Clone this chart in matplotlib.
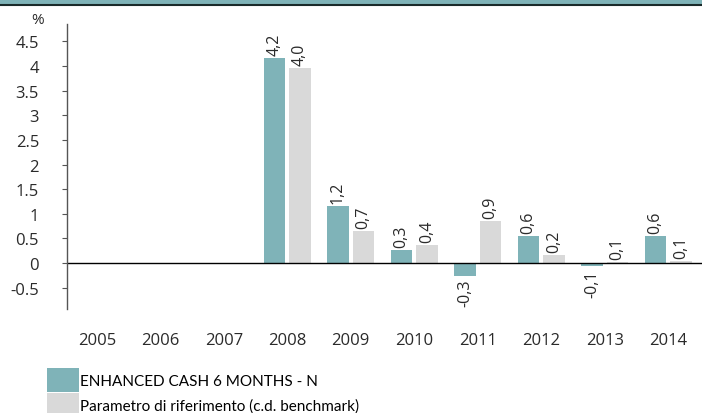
import matplotlib.pyplot as plt
import numpy as np
from matplotlib.patches import Rectangle
from matplotlib.lines import Line2D

# Data
years = ["2005", "2006", "2007", "2008", "2009", "2010", "2011", "2012", "2013", "2014"]
fund = [np.nan, np.nan, np.nan, 4.16, 1.16, 0.26, -0.26, 0.56, -0.06, 0.56]
bench = [np.nan, np.nan, np.nan, 3.96, 0.66, 0.36, 0.86, 0.16, 0.03, 0.05]
fund_labels = ["", "", "", "4,2", "1,2", "0,3", "-0,3", "0,6", "-0,1", "0,6"]
bench_labels = ["", "", "", "4,0", "0,7", "0,4", "0,9", "0,2", "0,1", "0,1"]
yticks = [-0.5, 0, 0.5, 1, 1.5, 2, 2.5, 3, 3.5, 4, 4.5]

TEAL = "#7fb3b8"
GREY = "#d9d9d9"
TXT = "#2a2a2a"
W, H = 702, 414

plt.rcParams['font.family'] = ['Open Sans', 'DejaVu Sans']

fig = plt.figure(figsize=(W / 100, H / 100), dpi=100)
ax = fig.add_axes([67 / W, 1 - 310 / H, (710 - 67) / W, (310 - 25) / H])

x = np.arange(len(years))
ax.bar(x - 0.2, fund, width=0.34, color=TEAL, label="ENHANCED CASH 6 MONTHS - N")
ax.bar(x + 0.2, bench, width=0.34, color=GREY, label="Parametro di riferimento (c.d. benchmark)")

# value labels, rotated
for i in range(len(years)):
    for off, vals, labs in ((-0.2, fund, fund_labels), (0.2, bench, bench_labels)):
        v = vals[i]
        if np.isnan(v):
            continue
        if v >= 0:
            ax.text(x[i] + off, v + 0.06, labs[i], rotation=90, ha="center", va="bottom",
                    fontsize=11.5, color=TXT)
        else:
            ax.text(x[i] + off, v - 0.06, labs[i], rotation=90, ha="center", va="top",
                    fontsize=11.5, color=TXT)

ax.axhline(0, color="black", lw=1)
ax.set_xlim(-0.47, 9.66)
ax.set_ylim(-0.93, 4.85)
ax.set_yticks(yticks)
ax.set_yticklabels([("%g" % t) for t in yticks])
ax.set_xticks(x)
ax.set_xticklabels(years)
ax.tick_params(axis="x", length=0, pad=16.5, labelsize=12, colors=TXT)
ax.tick_params(axis="y", length=3.6, pad=16.5, labelsize=12, colors=TXT, direction="out",
               color="#555555")
for s in ("top", "right", "bottom"):
    ax.spines[s].set_visible(False)
ax.spines["left"].set_color("#555555")
ax.spines["left"].set_linewidth(1)

fig.text(38 / W, 1 - 21 / H, "%", fontsize=11, color=TXT, ha="center", va="center")

# header band
fig.add_artist(Rectangle((0, 1 - 5 / H), 1, 5 / H, transform=fig.transFigure, color=TEAL, lw=0))
fig.add_artist(Line2D([0, 1], [1 - 6 / H, 1 - 6 / H], transform=fig.transFigure, color="#1a2a2a", lw=1.5))

fig.legend(loc="upper left", bbox_to_anchor=(47 / W, 1 - 369 / H), frameon=False,
           handlelength=2.1, handleheight=2.0, handletextpad=0.05, labelspacing=0.1,
           prop={"family": "Lato", "size": 11}, borderpad=0, borderaxespad=0)

fig.savefig("out.png", dpi=100)
